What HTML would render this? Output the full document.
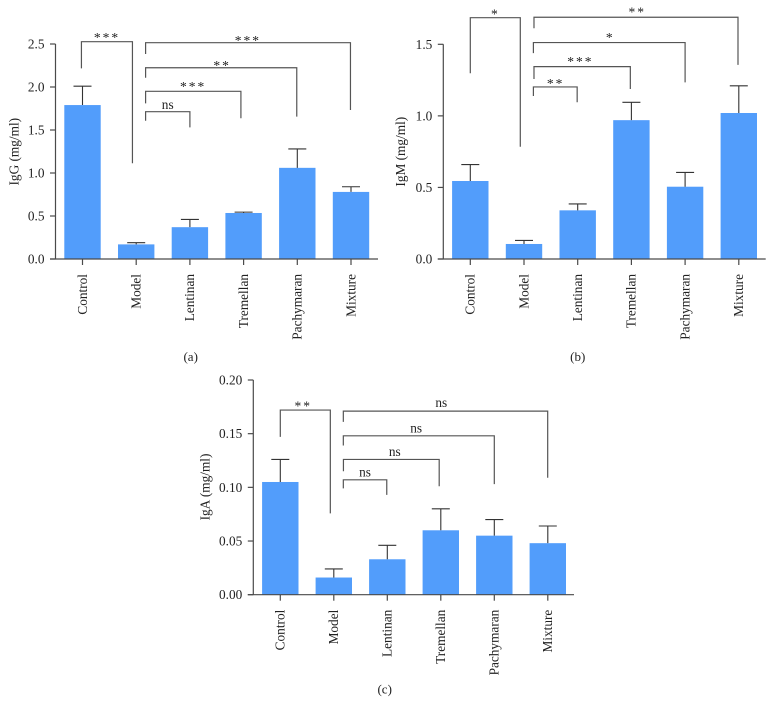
<!DOCTYPE html>
<html>
<head>
<meta charset="utf-8">
<title>IgG, IgM and IgA bar charts</title>
<style>
html,body{margin:0;padding:0;background:#fff;}
svg{display:block;}
text{font-family:"Liberation Serif",serif;fill:#222;}
</style>
</head>
<body>
<svg id="figure" width="774" height="716" viewBox="0 0 774 716" xmlns="http://www.w3.org/2000/svg"></svg>
<script>
const categories = ['Control','Model','Lentinan','Tremellan','Pachymaran','Mixture'];

const iggValues = [1.79,0.17,0.37,0.535,1.06,0.78];
const iggErrorTops = [2.01,0.19,0.46,0.545,1.28,0.84];
const iggTicks = ['0.0','0.5','1.0','1.5','2.0','2.5'];
const iggBrackets = [
  {from:-0.02,to:0.93,top:2.527,left:2.217,right:1.113,label:'***',lx:0.456,ly:2.594},
  {from:1.175,to:4.99,top:2.515,left:2.384,right:1.733,label:'***',lx:3.08,ly:2.558},
  {from:1.175,to:3.99,top:2.224,left:2.108,right:1.655,label:'**',lx:2.6,ly:2.267},
  {from:1.175,to:2.95,top:1.95,left:1.81,right:1.636,label:'***',lx:2.06,ly:2.023},
  {from:1.175,to:2,top:1.713,left:1.608,right:1.531,label:'ns',lx:1.587,ly:1.744}
];

const igmValues = [0.545,0.105,0.34,0.97,0.505,1.02];
const igmErrorTops = [0.66,0.13,0.385,1.095,0.605,1.21];
const igmTicks = ['0.0','0.5','1.0','1.5'];
const igmBrackets = [
  {from:0,to:0.931,top:1.686,left:1.298,right:0.784,label:'*',lx:0.466,ly:1.721},
  {from:1.186,to:4.985,top:1.689,left:1.612,right:1.356,label:'**',lx:3.11,ly:1.735},
  {from:1.175,to:4,top:1.512,left:1.438,right:1.234,label:'*',lx:2.607,ly:1.558},
  {from:1.186,to:2.98,top:1.344,left:1.258,right:1.188,label:'***',lx:2.05,ly:1.391},
  {from:1.175,to:1.99,top:1.202,left:1.139,right:1.095,label:'**',lx:1.59,ly:1.237}
];

const igaValues = [0.105,0.016,0.033,0.06,0.055,0.048];
const igaErrorTops = [0.126,0.024,0.046,0.08,0.07,0.064];
const igaTicks = ['0.00','0.05','0.10','0.15','0.20'];
const igaBrackets = [
  {from:0,to:0.935,top:0.172,left:0.147,right:0.0758,label:'**',lx:0.43,ly:0.177},
  {from:1.178,to:4.998,top:0.171,left:0.161,right:0.109,label:'ns',lx:3.01,ly:0.175},
  {from:1.178,to:4,top:0.148,left:0.139,right:0.103,label:'ns',lx:2.54,ly:0.151},
  {from:1.18,to:2.97,top:0.126,left:0.115,right:0.101,label:'ns',lx:2.14,ly:0.129},
  {from:1.178,to:1.99,top:0.107,left:0.099,right:0.093,label:'ns',lx:1.583,ly:0.11}
];

const svg = document.getElementById('figure');
const NS = 'http://www.w3.org/2000/svg';
const BAR = '#529dfb', LINE = '#4a4a4a';

function shape(parent, tag, props){
  const el = document.createElementNS(NS, tag);
  for (const k in props) el.setAttribute(k, props[k]);
  parent.appendChild(el);
  return el;
}

function drawPanel(p, values, errorTops, ticks, brackets){
  const maxV = parseFloat(ticks[ticks.length-1]);
  const yScale = v => p.y0 - (v / maxV) * (p.y0 - p.yTop);
  const xScale = c => p.first + c * p.step;

  const g = shape(svg, 'g', {});
  
  

  values.forEach((v, i) => {
    const bar = shape(g, 'rect', {x:xScale(i)-18.2, y:yScale(v), width:36.4, height:p.y0-yScale(v), fill:BAR});
    
    
    const err = shape(g, 'path', {d:'M'+xScale(i)+' '+yScale(v)+'V'+yScale(errorTops[i])+'m-9 0h18', stroke:'#333', 'stroke-width':1.1, fill:'none'});
    
    
  });

  const yAxis = shape(g, 'line', {x1:p.axis, x2:p.axis, y1:p.yTop, y2:p.y0, stroke:LINE, 'stroke-width':1.2});
  
  
  const xAxis = shape(g, 'line', {x1:p.axis-5.5, x2:p.end, y1:p.y0, y2:p.y0, stroke:LINE, 'stroke-width':1.2});
  
  

  ticks.forEach(t => {
    const y = yScale(parseFloat(t));
    const tick = shape(g, 'line', {x1:p.axis-5.5, x2:p.axis, y1:y, y2:y, stroke:LINE, 'stroke-width':1.2});
    
    
    const lab = shape(g, 'text', {x:p.axis-11, y:y+4.5, 'text-anchor':'end', 'font-size':13.3});
    lab.textContent = t;
    
    
  });

  categories.forEach((c, i) => {
    const x = xScale(i);
    const tick = shape(g, 'line', {x1:x, x2:x, y1:p.y0, y2:p.y0+6, stroke:LINE, 'stroke-width':1.2});
    
    
    const lab = shape(g, 'text', {transform:'translate('+(x+4.3)+' '+(p.y0+15)+') rotate(-90)', 'text-anchor':'end', 'font-size':13.3});
    lab.textContent = c;
    
    
  });

  const title = shape(g, 'text', {transform:'translate('+p.titleX+' '+p.titleY+') rotate(-90)', 'text-anchor':'middle', 'font-size':13.3});
  title.textContent = p.title;
  
  

  const cap = shape(g, 'text', {x:p.capX, y:p.capY, 'text-anchor':'middle', 'font-size':13});
  cap.textContent = p.caption;
  
  

  brackets.forEach(b => {
    const br = shape(g, 'path', {d:'M'+xScale(b.from)+' '+yScale(b.left)+'V'+yScale(b.top)+'H'+xScale(b.to)+'V'+yScale(b.right), stroke:'#555', 'stroke-width':1.2, fill:'none'});
    
    
    const isNs = b.label === 'ns';
    const txt = shape(g, 'text', {x:xScale(b.lx), y:yScale(b.ly) + (isNs ? 0 : 6), 'text-anchor':'middle', 'font-size':isNs ? 13.3 : 13.5, 'letter-spacing':isNs ? 0 : 2});
    txt.textContent = b.label;
    
    
  });
}

drawPanel({name:'igg',axis:55.5,y0:259,yTop:44,first:82.5,step:53.7,end:378,title:'IgG (mg/ml)',titleX:18.5,titleY:151.7,caption:'(a)',capX:190.7,capY:361}, iggValues, iggErrorTops, iggTicks, iggBrackets);
drawPanel({name:'igm',axis:443.3,y0:259,yTop:44.3,first:470.3,step:53.7,end:765.7,title:'IgM (mg/ml)',titleX:405,titleY:151.7,caption:'(b)',capX:577.7,capY:361}, igmValues, igmErrorTops, igmTicks, igmBrackets);
drawPanel({name:'iga',axis:253.3,y0:594.7,yTop:380,first:280.3,step:53.5,end:574,title:'IgA (mg/ml)',titleX:209.3,titleY:487,caption:'(c)',capX:384.7,capY:693.3}, igaValues, igaErrorTops, igaTicks, igaBrackets);
</script>
</body>
</html>
